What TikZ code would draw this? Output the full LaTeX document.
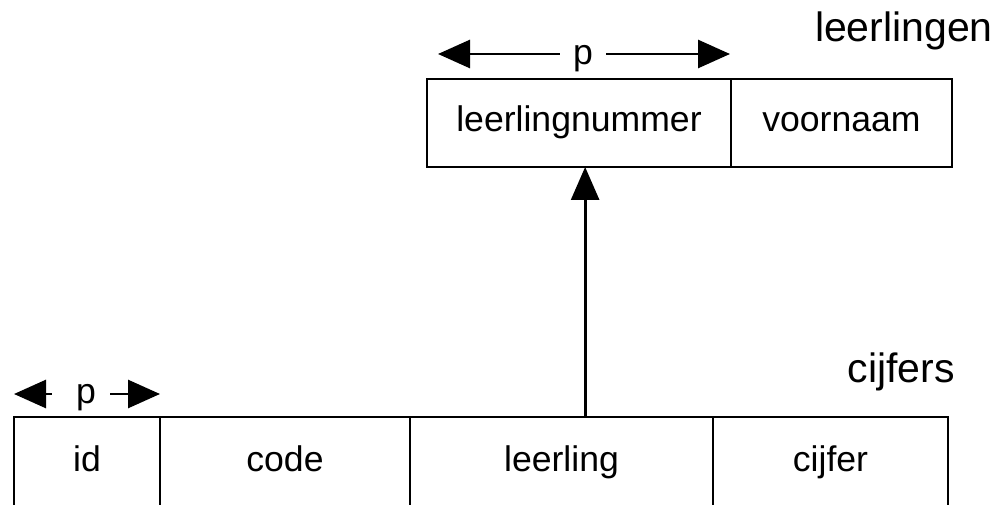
\documentclass[tikz,border=0pt]{standalone}
\usepackage{fontspec}
\setmainfont{Liberation Sans}
\usetikzlibrary{arrows.meta,calc}
\begin{document}
\begin{tikzpicture}[x=1pt,y=-1pt,
  cell/.style={draw,line width=2.8pt,inner sep=0pt,outer sep=0pt,anchor=north west,
    text height=25pt,text depth=8pt,font=\fontsize{35.6}{40}\selectfont},
  toprow/.style={cell,minimum height=88pt},
  botrow/.style={cell,minimum height=92pt},
  tablename/.style={anchor=base east,inner sep=0pt,font=\fontsize{41}{46}\selectfont},
  plabel/.style={anchor=base,inner sep=0pt,font=\fontsize{35.6}{40}\selectfont},
  dimarrow/.style={line width=2.8pt,-{Triangle[length=32pt,width=28pt]}},
  fkarrow/.style={line width=2.8pt,-{Triangle[length=33pt,width=28pt]}}]
\useasboundingbox (0,0) rectangle (1002,505);
\clip (0,0) rectangle (1002,505);

% table leerlingen
\node[toprow,minimum width=304pt] (lnr) at (427,79) {leerlingnummer};
\node[toprow,minimum width=221pt] (vnm) at (731,79) {voornaam};
\node[tablename] (tleer) at (993,42) {leerlingen};

% primary key width marker above leerlingnummer
\node[plabel] (p1) at (583,65) {p};
\coordinate (p1l) at (438,54);
\coordinate (p1r) at (730,54);
\draw[dimarrow] ([xshift=-13pt]p1.west |- p1l) -- (p1l);
\draw[dimarrow] ([xshift=13pt]p1.east |- p1r) -- (p1r);

% table cijfers
\node[botrow,minimum width=146pt] (id) at (14,417) {id};
\node[botrow,minimum width=250pt] (code) at (160,417) {code};
\node[botrow,minimum width=303pt] (llg) at (410,417) {leerling};
\node[botrow,minimum width=235pt] (cijf) at (713,417) {cijfer};
\node[tablename] (tcijf) at (955,382) {cijfers};

% primary key width marker above id
\node[plabel] (p2) at (86,403) {p};
\coordinate (p2l) at (14,394);
\coordinate (p2r) at (160,394);
\draw[dimarrow] ([xshift=-24pt]p2.west |- p2l) -- (p2l);
\draw[dimarrow] ([xshift=14pt]p2.east |- p2r) -- (p2r);

% foreign key leerling -> leerlingnummer
\coordinate (fk) at ($(llg.north west)!0.578!(llg.north east)$);
\draw[fkarrow] (fk) -- (fk |- lnr.south);
\end{tikzpicture}
\end{document}
